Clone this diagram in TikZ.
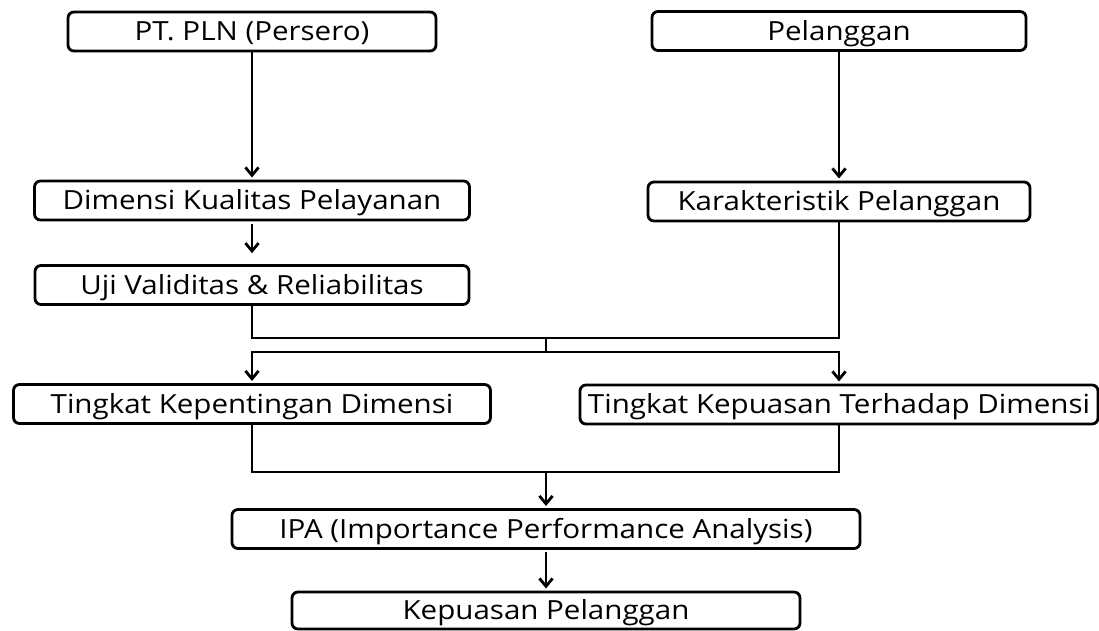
\documentclass[tikz,border=0pt]{standalone}
\usepackage{fontspec}
\setmainfont[FakeStretch=1.12]{Open Sans}
\usepackage{tikz}
\usetikzlibrary{positioning}
\usetikzlibrary{arrows.meta,calc}
\tikzset{
    %Define standard arrow tip
    >={Straight Barb[length=4.5pt,width=7.5pt,line width=1.6pt]},
    % Define arrow style
    pil/.style={
           ->,
           color=black,
           line width=1.6pt,
           shorten <=2pt,
           shorten >=2pt,},
    garis/.style={
           color=black,
           line width=1.6pt,}
}
\newcommand{\kotakheight}{0.78cm}

\begin{document}
\begin{tikzpicture}[outer sep = 0pt, font=\fontsize{15}{17}\selectfont]
\tikzstyle{kotak}=[draw=black, fill=white, rectangle, line width=1.6pt, rounded corners=1.2mm,
    minimum height=\kotakheight, inner sep=0pt, text height=12.7pt, text depth=2pt, align=center]
%
\useasboundingbox (0cm,0cm) rectangle (21.98cm,12.6cm);

\node[kotak, minimum width=7.36cm] (pln) at (5.04cm,11.97cm) {PT. PLN (Persero)};
\node[kotak, minimum width=7.48cm] (pelanggan) at (16.78cm,11.98cm) {Pelanggan};
\node[kotak, minimum width=8.7cm] (dimensi) at (5.04cm,8.59cm) {Dimensi Kualitas Pelayanan};
\node[kotak, minimum width=7.64cm] (karakter) at (16.78cm,8.57cm) {Karakteristik Pelanggan};
\node[kotak, minimum width=8.68cm] (uji) at (5.04cm,6.9cm) {Uji Validitas \& Reliabilitas};
\node[kotak, minimum width=9.54cm] (penting) at (5.04cm,4.52cm) {Tingkat Kepentingan Dimensi};
\node[kotak, minimum width=10.36cm] (puas) at (16.78cm,4.51cm) {Tingkat Kepuasan Terhadap Dimensi};
\node[kotak, minimum width=12.56cm] (ipa) at (10.92cm,2.02cm) {IPA (Importance Performance Analysis)};
\node[kotak, minimum width=10.16cm, minimum height=0.74cm] (kepuasan) at (10.92cm,0.39cm) {Kepuasan Pelanggan};

\coordinate (jatas) at (10.92cm,5.84cm);
\coordinate (jbawah) at (10.92cm,5.56cm);
\coordinate (jipa) at (10.92cm,3.16cm);

\path[pil,shorten <=0pt] (pln.south) edge (dimensi.north);
\path[pil,shorten <=0pt] (pelanggan.south) edge (karakter.north);
\path[pil,shorten >=7pt] (dimensi.south) edge (uji.north);

\draw[garis] (uji.south) |- (jatas) -| (karakter.south);
\draw[garis] (jatas) -- (jbawah);
\draw[pil,shorten <=0pt] (jbawah) -| (penting.north);
\draw[pil,shorten <=0pt] (jbawah) -| (puas.north);

\draw[garis] (penting.south) |- (jipa) -| (puas.south);
\path[pil,shorten <=0pt] (jipa) edge (ipa.north);
\path[pil] (ipa.south) edge (kepuasan.north);

\end{tikzpicture}
\end{document}
